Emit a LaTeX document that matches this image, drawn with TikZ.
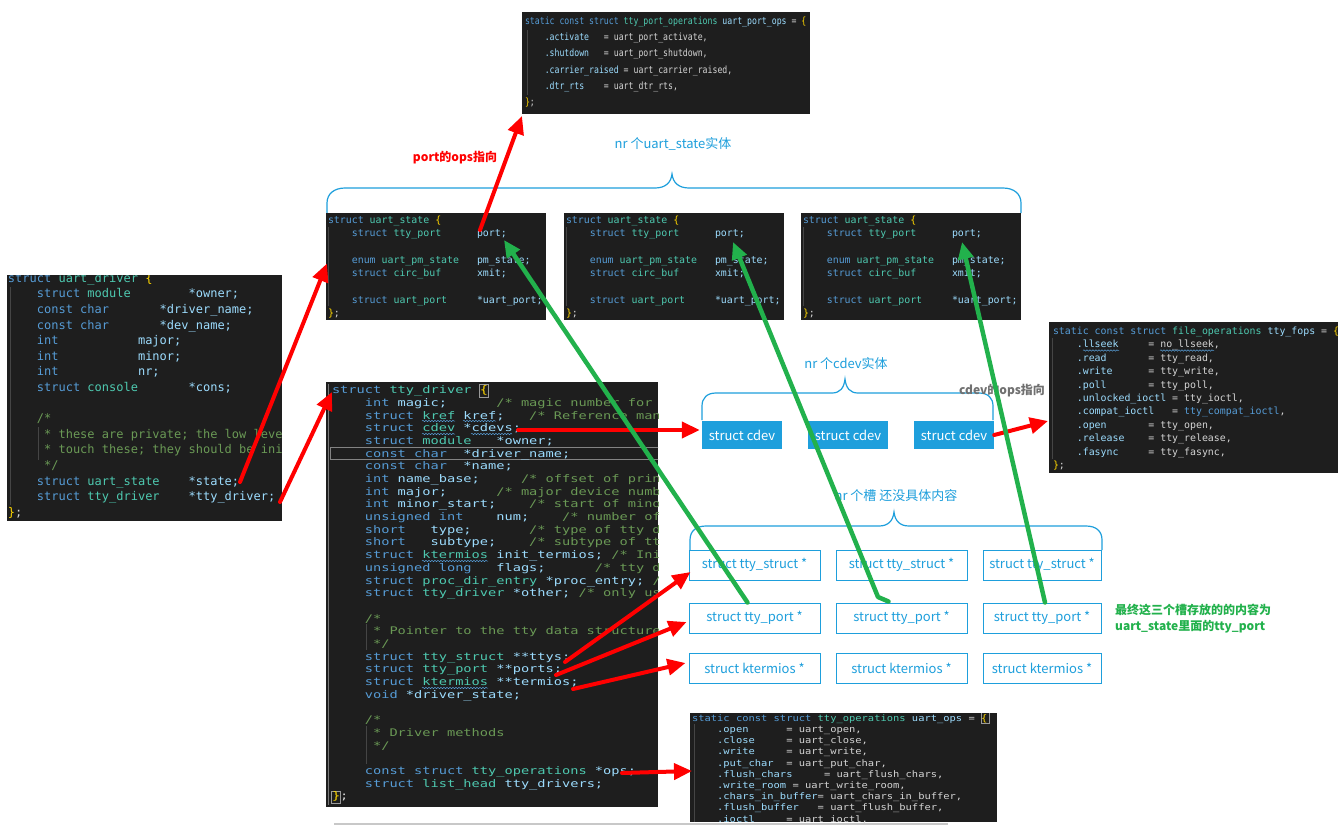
\documentclass[tikz,border=0pt]{standalone}
\usepackage{fontspec}
\usetikzlibrary{arrows.meta,decorations.pathmorphing}
\newfontfamily\cjk{Noto Sans CJK SC}
\newfontfamily\monoPO[FakeStretch=0.82]{DejaVu Sans Mono}
\newfontfamily\monoUD{DejaVu Sans Mono}
\newfontfamily\monoTD[FakeStretch=1.30]{DejaVu Sans Mono}
\newfontfamily\monoUO[FakeStretch=1.16]{DejaVu Sans Mono}
\definecolor{bg}{HTML}{1E1E1E}
\definecolor{ckw}{HTML}{569CD6}
\definecolor{cty}{HTML}{4EC9B0}
\definecolor{cvr}{HTML}{9CDCFE}
\definecolor{ccm}{HTML}{6A9955}
\definecolor{cbr}{HTML}{FFD700}
\definecolor{cfg}{HTML}{D4D4D4}
\definecolor{uiblue}{HTML}{1E9FDC}
\definecolor{ared}{HTML}{FF0000}
\definecolor{agreen}{HTML}{22B14C}
\definecolor{guide}{HTML}{454545}
\definecolor{lgray}{HTML}{707070}
\definecolor{sbar}{HTML}{C8C8C8}
\newcommand\cKw[1]{\textcolor{ckw}{#1}}
\newcommand\cTy[1]{\textcolor{cty}{#1}}
\newcommand\cVr[1]{\textcolor{cvr}{#1}}
\newcommand\cCm[1]{\textcolor{ccm}{#1}}
\newcommand\cBr[1]{\textcolor{cbr}{#1}}
\newcommand\codeln[2]{\node[codeln] (\cpre#1) at (\cx,{\cy+#1*\cdy}) {#2};}
\def\cfont{\monoUD}
\tikzset{
  codeln/.style={anchor=base west, inner sep=0pt, outer sep=0pt, text=cfg, font=\cfont},
  panel/.style={anchor=north west, fill=bg, inner sep=0pt, outer sep=0pt},
  filledbox/.style={fill=uiblue, text=white, minimum width=80pt, minimum height=28pt, inner sep=0pt, font=\cjk\fontsize{13}{15}\selectfont},
  slotbox/.style={draw=uiblue, line width=1pt, text=uiblue, minimum height=30pt, inner sep=0pt, font=\cjk\fontsize{13}{15}\selectfont},
  bracepath/.style={draw=uiblue, line width=1.2pt},
  bluelbl/.style={text=uiblue, font=\cjk\fontsize{13}{15}\selectfont, inner sep=0pt},
  redarr/.style={draw=ared, line width=4pt, line cap=round, -{Triangle[length=18pt,width=16pt]}},
  grnarr/.style={draw=agreen, line width=4.5pt, line cap=round, line join=round, -{Triangle[length=17pt,width=15pt]}},
  iguide/.style={draw=guide, line width=0.8pt},
  wavy/.style={draw=ckw, line width=0.5pt, decorate, decoration={snake, amplitude=0.7pt, segment length=3pt}},
}
\begin{document}
\begin{tikzpicture}[x=1pt,y=-1pt]
\useasboundingbox (0,0) rectangle (1342,825);
\fill[white] (0,0) rectangle (1342,825);

% ---------- braces ----------
\draw[bracepath] (327,213) -- (327,203) .. controls (327,194) and (334,188) .. (345,188) -- (655,188) .. controls (665,188) and (671,183) .. (672,174) .. controls (673,183) and (679,188) .. (689,188) -- (1003,188) .. controls (1014,188) and (1021,194) .. (1021,203) -- (1021,213);
\draw[bracepath] (702,420) -- (702,406) .. controls (702,398) and (707,393) .. (716,393) -- (832,393) .. controls (840,393) and (844,388) .. (845,379) .. controls (846,388) and (850,393) .. (858,393) -- (979,393) .. controls (988,393) and (993,398) .. (993,406) -- (993,420);
\draw[bracepath] (690,550) -- (690,540) .. controls (690,531) and (696,526) .. (706,526) -- (879,526) .. controls (888,526) and (893,521) .. (894,512) .. controls (895,521) and (900,526) .. (909,526) -- (1086,526) .. controls (1096,526) and (1102,531) .. (1102,540) -- (1102,550);

% ---------- uart_port_ops panel ----------
\node[panel, minimum width=288pt, minimum height=102pt] (pops) at (522,12) {};
\begin{scope}
\clip (522,12) rectangle (810,114);
\draw[iguide] (527,30) -- (527,95);
\def\cx{525}\def\cy{24.5}\def\cdy{16.2}\def\cpre{po}\def\cfont{\monoPO\fontsize{10}{12}\selectfont}
\codeln{0}{\cKw{static const struct} \cTy{tty\_port\_operations} \cVr{uart\_port\_ops} = \cBr{\{}}
\codeln{1}{~~~~\cVr{.activate}~~~= uart\_port\_activate,}
\codeln{2}{~~~~\cVr{.shutdown}~~~= uart\_port\_shutdown,}
\codeln{3}{~~~~\cVr{.carrier\_raised} = uart\_carrier\_raised,}
\codeln{4}{~~~~\cVr{.dtr\_rts}~~~~= uart\_dtr\_rts,}
\codeln{5}{\cBr{\}};}
\end{scope}

% ---------- uart_driver panel ----------
\node[panel, minimum width=275pt, minimum height=246pt] (udrv) at (7,275) {};
\begin{scope}
\clip (7,275) rectangle (282,521);
\draw[iguide] (10,287) -- (10,505);
\draw[iguide] (38,427) -- (38,460);
\def\cx{8}\def\cy{282.3}\def\cdy{15.6}\def\cpre{ud}\def\cfont{\monoUD\fontsize{12}{14}\selectfont}
\codeln{0}{\cKw{struct} \cTy{uart\_driver} \cBr{\{}}
\codeln{1}{~~~~\cKw{struct} \cTy{module}~~~~~~~~\cVr{*owner;}}
\codeln{2}{~~~~\cKw{const char}~~~~~~~\cVr{*driver\_name;}}
\codeln{3}{~~~~\cKw{const char}~~~~~~~\cVr{*dev\_name;}}
\codeln{4}{~~~~\cKw{int}~~~~~~~~~~~\cVr{major;}}
\codeln{5}{~~~~\cKw{int}~~~~~~~~~~~\cVr{minor;}}
\codeln{6}{~~~~\cKw{int}~~~~~~~~~~~\cVr{nr;}}
\codeln{7}{~~~~\cKw{struct} \cTy{console}~~~~~~~\cVr{*cons;}}
\codeln{9}{~~~~\cCm{/*}}
\codeln{10}{~~~~~\cCm{* these are private; the low leve}}
\codeln{11}{~~~~~\cCm{* touch these; they should be ini}}
\codeln{12}{~~~~~\cCm{*/}}
\codeln{13}{~~~~\cKw{struct} \cTy{uart\_state}~~~~\cVr{*state;}}
\codeln{14}{~~~~\cKw{struct} \cTy{tty\_driver}~~~~\cVr{*tty\_driver;}}
\codeln{15}{\cBr{\}};}
\end{scope}

% ---------- uart_state panels ----------
\foreach \px/\nm in {326/us1, 564/us2, 801/us3}{
  \node[panel, minimum width=220pt, minimum height=107pt] (\nm) at (\px,213) {};
  \begin{scope}
  \clip (\px,213) rectangle ({\px+220},320);
  \draw[iguide] ({\px+2},227) -- ({\px+2},306);
  \pgfmathsetmacro\cx{\px+2}\def\cy{223.4}\def\cdy{13.3}\edef\cpre{\nm l}\def\cfont{\monoUD\fontsize{9.9}{12}\selectfont}
  \codeln{0}{\cKw{struct} \cTy{uart\_state} \cBr{\{}}
  \codeln{1}{~~~~\cKw{struct} \cTy{tty\_port}~~~~~~\cVr{port;}}
  \codeln{3}{~~~~\cKw{enum} \cTy{uart\_pm\_state}~~~\cVr{pm\_state;}}
  \codeln{4}{~~~~\cKw{struct} \cTy{circ\_buf}~~~~~~\cVr{xmit;}}
  \codeln{6}{~~~~\cKw{struct} \cTy{uart\_port}~~~~~\cVr{*uart\_port;}}
  \codeln{7}{\cBr{\}};}
  \end{scope}
}

% ---------- tty_driver panel ----------
\node[panel, minimum width=332pt, minimum height=425pt] (ttyd) at (326,382) {};
\begin{scope}
\clip (326,382) rectangle (658,807);
\draw[draw=white!45!bg, line width=1pt] (330.5,447.5) rectangle (660,459.5);
\draw[draw=white!55!bg, line width=0.8pt] (479.5,384) rectangle (488.5,397);
\draw[draw=white!55!bg, line width=0.8pt] (331.5,791) rectangle (340,803.5);
\draw[draw=white!40!bg, line width=1.2pt] (328.5,384) -- (328.5,805);
\draw[iguide] (366,624) -- (366,650);
\draw[iguide] (366,726) -- (366,764);
\def\cx{332}\def\cy{393.7}\def\cdy{12.69}\def\cpre{td}\def\cfont{\monoTD\fontsize{10.5}{12.5}\selectfont}
\codeln{0}{\cKw{struct} \cTy{tty\_driver} \cBr{\{}}
\codeln{1}{~~~~\cKw{int} \cVr{magic;}~~~~~~\cCm{/* magic number for t}}
\codeln{2}{~~~~\cKw{struct} \cTy{kref} \cVr{kref;}~~~\cCm{/* Reference mana}}
\codeln{3}{~~~~\cKw{struct} \cTy{cdev} \cVr{*cdevs;}}
\codeln{4}{~~~~\cKw{struct} \cTy{module}~~~\cVr{*owner;}}
\codeln{5}{~~~~\cKw{const char}~~\cVr{*driver\_name;}}
\codeln{6}{~~~~\cKw{const char}~~\cVr{*name;}}
\codeln{7}{~~~~\cKw{int} \cVr{name\_base;}~~~~~\cCm{/* offset of print}}
\codeln{8}{~~~~\cKw{int} \cVr{major;}~~~~~~\cCm{/* major device numbe}}
\codeln{9}{~~~~\cKw{int} \cVr{minor\_start;}~~~~\cCm{/* start of minor}}
\codeln{10}{~~~~\cKw{unsigned int}~~~~\cVr{num;}~~~~\cCm{/* number of}}
\codeln{11}{~~~~\cKw{short}~~~\cVr{type;}~~~~~~~\cCm{/* type of tty dr}}
\codeln{12}{~~~~\cKw{short}~~~\cVr{subtype;}~~~~\cCm{/* subtype of tty}}
\codeln{13}{~~~~\cKw{struct} \cTy{ktermios} \cVr{init\_termios;} \cCm{/* Init}}
\codeln{14}{~~~~\cKw{unsigned long}~~~\cVr{flags;}~~~~~~\cCm{/* tty dr}}
\codeln{15}{~~~~\cKw{struct} \cTy{proc\_dir\_entry} \cVr{*proc\_entry;} \cCm{/*}}
\codeln{16}{~~~~\cKw{struct} \cTy{tty\_driver} \cVr{*other;} \cCm{/* only use}}
\codeln{18}{~~~~\cCm{/*}}
\codeln{19}{~~~~~\cCm{* Pointer to the tty data structures}}
\codeln{20}{~~~~~\cCm{*/}}
\codeln{21}{~~~~\cKw{struct} \cTy{tty\_struct} \cVr{**ttys;}}
\codeln{22}{~~~~\cKw{struct} \cTy{tty\_port} \cVr{**ports;}}
\codeln{23}{~~~~\cKw{struct} \cTy{ktermios} \cVr{**termios;}}
\codeln{24}{~~~~\cKw{void} \cVr{*driver\_state;}}
\codeln{26}{~~~~\cCm{/*}}
\codeln{27}{~~~~~\cCm{* Driver methods}}
\codeln{28}{~~~~~\cCm{*/}}
\codeln{30}{~~~~\cKw{const struct} \cTy{tty\_operations} \cVr{*ops;}}
\codeln{31}{~~~~\cKw{struct} \cTy{list\_head} \cVr{tty\_drivers;}}
\codeln{32}{\cBr{\}};}
\draw[wavy] (422,421) -- (455,421);
\draw[wavy] (463,421) -- (496,421);
\draw[wavy] (422,434) -- (455,434);
\draw[wavy] (471,434) -- (512,434);
\draw[wavy] (422,561) -- (488,561);
\draw[wavy] (422,688) -- (488,688);
\end{scope}

% ---------- tty_fops panel ----------
\node[panel, minimum width=289pt, minimum height=151pt] (fops) at (1049,322) {};
\begin{scope}
\clip (1049,322) rectangle (1338,473);
\draw[iguide] (1052,338) -- (1052,459);
\def\cx{1053}\def\cy{334.5}\def\cdy{13.4}\def\cpre{fo}\def\cfont{\monoUD\fontsize{9.9}{12}\selectfont}
\codeln{0}{\cKw{static const struct} \cTy{file\_operations} \cVr{tty\_fops} = \cBr{\{}}
\codeln{1}{~~~~\cVr{.llseek}~~~~~= no\_llseek,}
\codeln{2}{~~~~\cVr{.read}~~~~~~~= tty\_read,}
\codeln{3}{~~~~\cVr{.write}~~~~~~= tty\_write,}
\codeln{4}{~~~~\cVr{.poll}~~~~~~~= tty\_poll,}
\codeln{5}{~~~~\cVr{.unlocked\_ioctl} = tty\_ioctl,}
\codeln{6}{~~~~\cVr{.compat\_ioctl}~~~= \cKw{tty\_compat\_ioctl},}
\codeln{7}{~~~~\cVr{.open}~~~~~~~= tty\_open,}
\codeln{8}{~~~~\cVr{.release}~~~~= tty\_release,}
\codeln{9}{~~~~\cVr{.fasync}~~~~~= tty\_fasync,}
\codeln{10}{\cBr{\}};}
\draw[wavy] (1083,350.5) -- (1119,350.5);
\draw[wavy] (1160,350.5) -- (1214,350.5);
\end{scope}

% ---------- uart_ops panel ----------
\node[panel, minimum width=307pt, minimum height=109pt] (uops) at (690,713) {};
\begin{scope}
\clip (690,713) rectangle (997,822);
\draw[iguide] (694,724) -- (694,822);
\draw[draw=white!55!bg, line width=0.8pt] (981,712.5) rectangle (989,723.5);
\def\cx{692}\def\cy{721.2}\def\cdy{11.2}\def\cpre{uo}\def\cfont{\monoUO\fontsize{9}{11}\selectfont}
\codeln{0}{\cKw{static const struct} \cTy{tty\_operations} \cVr{uart\_ops} = \cBr{\{}}
\codeln{1}{~~~~\cVr{.open}~~~~~~= uart\_open,}
\codeln{2}{~~~~\cVr{.close}~~~~~= uart\_close,}
\codeln{3}{~~~~\cVr{.write}~~~~~= uart\_write,}
\codeln{4}{~~~~\cVr{.put\_char}~~= uart\_put\_char,}
\codeln{5}{~~~~\cVr{.flush\_chars}~~~~~= uart\_flush\_chars,}
\codeln{6}{~~~~\cVr{.write\_room} = uart\_write\_room,}
\codeln{7}{~~~~\cVr{.chars\_in\_buffer}= uart\_chars\_in\_buffer,}
\codeln{8}{~~~~\cVr{.flush\_buffer}~~~= uart\_flush\_buffer,}
\codeln{9}{~~~~\cVr{.ioctl}~~~~~= uart\_ioctl,}
\end{scope}
\draw[draw=sbar, line width=2pt] (334,823.5) -- (948,823.5);

% ---------- cdev boxes ----------
\node[filledbox] (cd1) at (742,435) {struct cdev};
\node[filledbox] (cd2) at (848,435) {struct cdev};
\node[filledbox] (cd3) at (954,435) {struct cdev};

% ---------- slot boxes ----------
\node[slotbox, minimum width=131pt] (ts1) at (754.5,565) {struct tty\_struct *};
\node[slotbox, minimum width=131pt] (ts2) at (901.5,565) {struct tty\_struct *};
\node[slotbox, minimum width=118pt] (ts3) at (1042,565) {struct tty\_struct *};
\node[slotbox, minimum width=131pt] (tp1) at (754.5,618) {struct tty\_port *};
\node[slotbox, minimum width=131pt] (tp2) at (901.5,618) {struct tty\_port *};
\node[slotbox, minimum width=118pt] (tp3) at (1042,618) {struct tty\_port *};
\node[slotbox, minimum width=131pt] (kt1) at (754.5,668) {struct ktermios *};
\node[slotbox, minimum width=131pt] (kt2) at (901.5,668) {struct ktermios *};
\node[slotbox, minimum width=118pt] (kt3) at (1042,668) {struct ktermios *};

% ---------- labels ----------
\node[bluelbl] (lbus) at (673,144) {nr 个uart\_state实体};
\node[bluelbl] (lbcd) at (846,364) {nr 个cdev实体};
\node[bluelbl] (lbsl) at (896,496) {nr 个槽 还没具体内容};
\node[text=ared, inner sep=0pt, font=\cjk\bfseries\fontsize{12}{14}\selectfont] (lbpo) at (455,158) {port的ops指向};
\node[text=lgray, inner sep=0pt, font=\cjk\bfseries\fontsize{12}{14}\selectfont] (lbco) at (1002,391) {cdev的ops指向};
\node[text=agreen, inner sep=0pt, anchor=north west, align=left, font=\cjk\bfseries\fontsize{12}{16}\selectfont] (lbfin) at (1115,604) {最终这三个槽存放的的内容为\\uart\_state里面的tty\_port};

% ---------- red arrows ----------
\coordinate (statep) at (240,482);
\coordinate (ttydrvp) at (280,502);
\coordinate (portp) at (480,230);
\coordinate (cdevsp) at (518,430);
\coordinate (ttysp) at (565,662);
\coordinate (portsp) at (556,675);
\coordinate (termp) at (573,689);
\coordinate (opsp) at (622,773);
\draw[redarr] (statep) -- ([shift={(1,-3)}]us1.west);
\draw[redarr] (ttydrvp) -- ([shift={(6,10)}]ttyd.north west);
\draw[redarr] (portp) -- ([shift={(0,2)}]pops.south west);
\draw[redarr] (cdevsp) -- ([shift={(-2,-5)}]cd1.west);
\draw[redarr] (cd3.east) -- ([shift={(-1,99)}]fops.north west);
\draw[redarr] (ttysp) -- ([shift={(2,7)}]ts1.west);
\draw[redarr] (portsp) -- ([shift={(-2,4)}]tp1.west);
\draw[redarr] (termp) -- ([shift={(-3,-5)}]kt1.west);
\draw[redarr] (opsp) -- ([shift={(2,58)}]uops.north west);

% ---------- green arrows ----------
\coordinate (g2k) at (878,597);
\draw[grnarr] ([shift={(-7,0)}]tp1.north) -- ([shift={(178,27)}]us1.north west);
\draw[grnarr] ([shift={(-13,-1)}]tp2.north) -- (g2k) -- ([shift={(169,29)}]us2.north west);
\draw[grnarr] ([shift={(3,0)}]tp3.north) -- ([shift={(161,29)}]us3.north west);
\end{tikzpicture}
\end{document}
